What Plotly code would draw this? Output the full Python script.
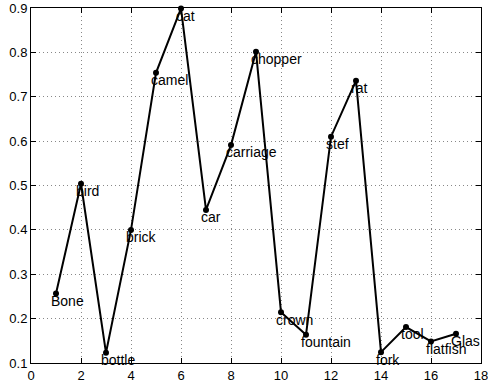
import plotly.graph_objects as go

x_vals = list(range(1, 18))
y_vals = [0.2565, 0.504, 0.123, 0.400, 0.754, 0.899, 0.445, 0.591, 0.8016,
          0.2146, 0.1635, 0.610, 0.7363, 0.1245, 0.181, 0.1485, 0.1658]
names = ["Bone", "bird", "bottle", "brick", "camel", "cat", "car", "carriage",
         "chopper", "crown", "fountain", "stef", "rat", "fork", "tool",
         "flatfish", "Glas"]
x_ticks = list(range(0, 19, 2))
y_ticks = [0.1, 0.2, 0.3, 0.4, 0.5, 0.6, 0.7, 0.8, 0.9]

label_dx = -0.2
label_dy = -0.02

fig = go.Figure()
fig.add_trace(go.Scatter(
    x=x_vals, y=y_vals, mode="lines+markers",
    line=dict(color="black", width=2),
    marker=dict(color="black", size=6),
    showlegend=False, cliponaxis=False,
))
fig.add_trace(go.Scatter(
    x=[v + label_dx for v in x_vals], y=[v + label_dy for v in y_vals],
    mode="text", text=names, textposition="middle right",
    textfont=dict(family="Liberation Sans, Arial", size=14, color="black"),
    showlegend=False, cliponaxis=False,
))

axis_common = dict(
    showline=True, linecolor="black", linewidth=1, mirror="ticks",
    ticks="inside", ticklen=5, tickcolor="black", tickwidth=1,
    showgrid=True, gridcolor="#888888", gridwidth=1, griddash="1px,3px",
    zeroline=False, automargin=False, ticklabeloverflow="allow",
    tickfont=dict(family="Liberation Sans, Arial", size=13, color="black"),
)

fig.update_xaxes(range=[0, 18], tickvals=x_ticks, ticktext=[str(t) for t in x_ticks],
                 ticklabelstandoff=0, **axis_common)
fig.update_yaxes(range=[0.1, 0.9], tickvals=y_ticks,
                 ticktext=[f"{t:.1f}" for t in y_ticks], **axis_common)

fig.update_layout(
    width=488, height=383,
    margin=dict(l=31, r=7, t=8, b=20),
    plot_bgcolor="white", paper_bgcolor="white",
    font=dict(family="Liberation Sans, Arial", size=13, color="black"),
)

fig.write_html("out.html", config={"displayModeBar": False},
               post_script="document.body.style.margin='0';document.body.style.overflow='hidden';")
